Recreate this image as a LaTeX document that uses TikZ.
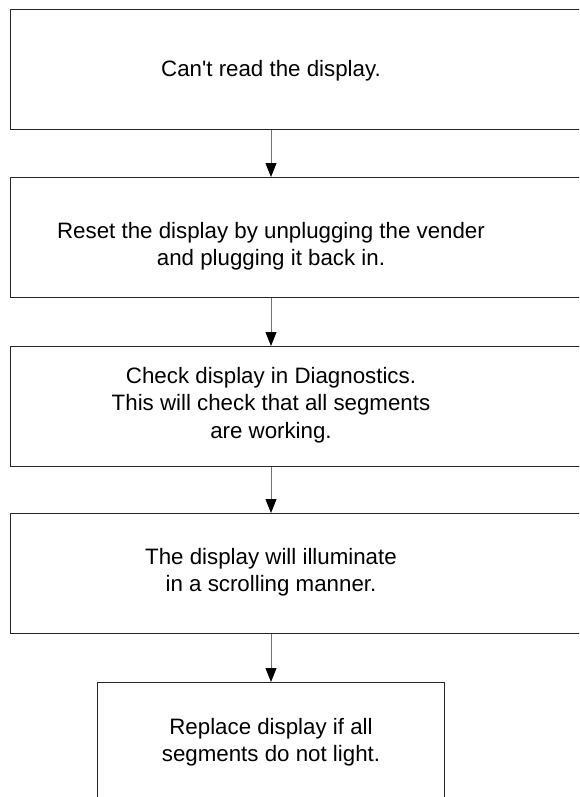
\documentclass[tikz,border=0pt]{standalone}
\usepackage{fontspec}
\setmainfont{Liberation Sans}
\usepackage{tikz}
\usetikzlibrary{positioning,arrows.meta}

\begin{document}
\begin{tikzpicture}[x=1pt, y=-1pt, >={Triangle[width=11pt,length=14pt,black]},
  every box/.style={draw=black!85, line width=1pt, rectangle, inner sep=0pt, anchor=north west},
  every step text/.style={align=center, font=\fontsize{22.3}{27.5}\selectfont, inner sep=0pt},
  every link/.style={->, draw=black!55, line width=1pt}]

\useasboundingbox (0,0) rectangle (579,797);
\clip (0,0) rectangle (579,797);

\foreach \m/\y in {1/9,2/177,3/346,4/513}
  \node [every box/.try, minimum width=620pt, minimum height=120pt] (box-\m) at (10,\y) {};
\node [every box/.try, minimum width=347pt, minimum height=140pt] (box-5) at (97,682) {};

\foreach \m/\y/\l in {1/71/{Can\textquotesingle t read the display.},
    2/246/{Reset the display by unplugging the vender\\and plugging it back in.},
    3/405/{Check display in Diagnostics.\\This will check that all segments\\are working.},
    4/572/{The display will illuminate\\in a scrolling manner.},
    5/742/{Replace display if all\\segments do not light.}}
  \node [every step text/.try] (text-\m) at (271,\y) {\l};

\foreach \i [count=\j from 2] in {1,...,4}
  \draw [every link/.try] (box-\i.south -| text-\i) -- (box-\j.north -| text-\i);

\end{tikzpicture}
\end{document}
